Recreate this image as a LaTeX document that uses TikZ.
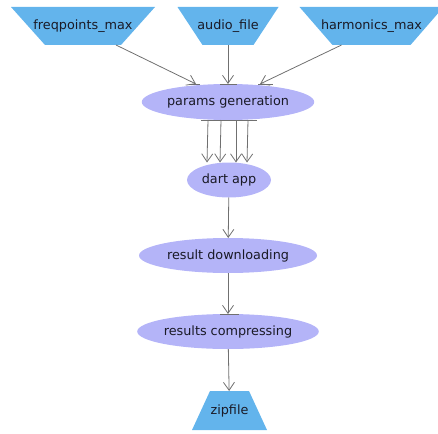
\documentclass[tikz,border=0pt]{standalone}
\usepackage{fontspec}
\setmainfont{DejaVu Sans}
\usetikzlibrary{shapes.geometric,arrows.meta}
\definecolor{portblue}{HTML}{63B4EC}
\definecolor{procviolet}{HTML}{B4B4F8}
\definecolor{linkgray}{HTML}{707070}
\definecolor{labeltext}{HTML}{1A1A26}
\tikzset{
  portinset/.store in=\portinset, portinset=35pt,
  inport/.style={rectangle, inner sep=0pt, outer sep=0pt, minimum width=144pt,
    minimum height=38pt, text=labeltext,
    path picture={\fill[portblue] (path picture bounding box.north west)
      -- (path picture bounding box.north east)
      -- ([xshift=-\portinset]path picture bounding box.south east)
      -- ([xshift=\portinset]path picture bounding box.south west) -- cycle;}},
  outport/.style={rectangle, inner sep=0pt, outer sep=0pt, minimum width=75pt,
    minimum height=39pt, text=labeltext,
    path picture={\fill[portblue] ([xshift=\portinset]path picture bounding box.north west)
      -- ([xshift=-\portinset]path picture bounding box.north east)
      -- (path picture bounding box.south east)
      -- (path picture bounding box.south west) -- cycle;}},
  process/.style={ellipse, fill=procviolet, inner sep=0pt, outer sep=0pt,
    minimum height=35pt, text=labeltext},
  link/.style={draw=linkgray, line width=0.8pt, -{Straight Barb[length=8pt,width=11pt]}},
  portbar/.style={draw=linkgray, line width=0.8pt}
}
\begin{document}
\begin{tikzpicture}[x=1pt,y=-1pt,font=\fontsize{12.8}{14}\selectfont]
  \useasboundingbox (0,0) rectangle (438,433);
  % inputs
  \node[inport, portinset=34pt] (freq) at (83,26) {freqpoints\_max};
  \node[inport, minimum width=101pt, portinset=25pt] (audio) at (228,26) {audio\_file};
  \node[inport, portinset=33pt] (harm) at (371.5,26) {harmonics\_max};
  % processors
  \node[process, minimum width=167pt, minimum height=36pt] (params) at (228,102) {params generation};
  \node[process, minimum width=84pt] (dart) at (229,180) {dart app};
  \node[process, minimum width=178pt] (download) at (228,255.5) {result downloading};
  \node[process, minimum width=179pt] (compress) at (228,331.5) {results compressing};
  % output
  \node[outport, portinset=18pt] (zip) at (229.5,410.5) {zipfile};
  % links
  \draw[link] ([xshift=33pt]freq.south) -- ([xshift=-32pt]params.north);
  \draw[link] (audio.south) -- (params.north);
  \draw[link] ([xshift=-30pt]harm.south) -- ([xshift=32pt]params.north);
  \draw[portbar] ([xshift=-38pt]params.north) -- ([xshift=-28pt]params.north);
  \draw[portbar] ([xshift=-8pt]params.north) -- ([xshift=9pt]params.north);
  \draw[portbar] ([xshift=30pt]params.north) -- ([xshift=45pt]params.north);
  \draw[portbar] ([xshift=-27pt]params.south) -- ([xshift=29pt]params.south);
  \foreach \dx/\ex in {-20/-22, -7/-9, 8/7, 20/18}
    \draw[link] ([xshift=\dx pt]params.south) -- ([xshift=\ex pt]dart.north);
  \draw[link] (dart) -- (download);
  \draw[link] (download) -- (compress);
  \draw[portbar] ([xshift=-8pt]compress.north) -- ([xshift=11pt]compress.north);
  \draw[link] (compress) -- (zip);
\end{tikzpicture}
\end{document}
